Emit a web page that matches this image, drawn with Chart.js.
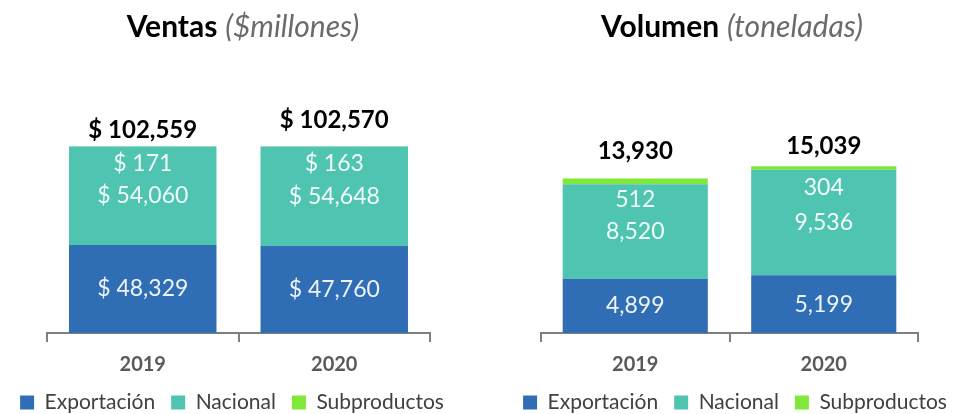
<!DOCTYPE html>
<html>
<head>
<meta charset="utf-8">
<script src="https://cdn.jsdelivr.net/npm/chart.js@4"></script>
<style>
  html, body { margin: 0; padding: 0; background: #fff; }
  body { width: 959px; height: 414px; position: relative; overflow: hidden; font-family: Lato, sans-serif; }
  .panel { position: absolute; top: 0; height: 414px; }
  .title { position: absolute; top: 7px; width: 400px; margin-left: -200px; text-align: center; font-size: 30px; color: #000; white-space: nowrap; }
  .title b { font-weight: 700; }
  .title .unit { color: #6b6b6b; font-style: italic; font-weight: 400; }
</style>
</head>
<body>
<div class="panel" style="left:-40px;width:560px;">
  <canvas id="ventasChart"></canvas>
</div>
<div class="panel" style="left:480px;width:540px;">
  <canvas id="volumenChart"></canvas>
</div>
<div class="title" style="left:243px;"><b>Ventas</b> <span class="unit">($millones)</span></div>
<div class="title" style="left:732px;"><b>Volumen</b> <span class="unit">(toneladas)</span></div>
<script>
// Data
const years = ['2019', '2020'];
const seriesNames = ['Exportación', 'Nacional', 'Subproductos'];

const ventasExportacion = [48329, 47760];
const ventasNacional = [54060, 54648];
const ventasSubproductos = [171, 163];
const ventasTotal = [102559, 102570];

const volumenExportacion = [4899, 5199];
const volumenNacional = [8520, 9536];
const volumenSubproductos = [512, 304];
const volumenTotal = [13930, 15039];

const colors = ['#2F6DB5', '#4EC4B1', '#7FE83A'];

// Draws the value inside each segment and the bold total above each stack
const stackLabels = {
  id: 'stackLabels',
  afterDatasetsDraw(chart, args, opts) {
    const ctx = chart.ctx;
    const topMeta = chart.getDatasetMeta(2);
    ctx.save();
    ctx.textAlign = 'center';
    ctx.textBaseline = 'middle';

    chart.data.datasets.forEach((ds, i) => {
      const meta = chart.getDatasetMeta(i);
      meta.data.forEach((bar, j) => {
        const text = opts.prefix + ds.data[j].toLocaleString('en-US');
        // Subproductos is too thin, its label sits just under the top of the stack
        const y = i === 2 ? topMeta.data[j].y + opts.subOffset : (bar.y + bar.base) / 2;
        ctx.font = '23px Lato';
        ctx.fillStyle = 'rgba(255,255,255,0.92)';
        ctx.fillText(text, bar.x, y);
      });
    });

    opts.totals.forEach((t, j) => {
      const bar = topMeta.data[j];
      ctx.font = 'bold 24px Lato';
      ctx.fillStyle = '#000';
      ctx.fillText(opts.prefix + t.toLocaleString('en-US'), bar.x, bar.y - opts.totalOffsets[j]);
    });
    ctx.restore();
  }
};

// sides: room left of / right of the plot inside the canvas
function makeChart(id, values, totals, yMax, sides, padding, labelOpts) {
  const ctx = document.getElementById(id).getContext('2d');
  return new Chart(ctx, {
    type: 'bar',
    data: {
      labels: years,
      datasets: values.map((data, i) => ({
        label: seriesNames[i],
        data: data,
        backgroundColor: colors[i],
        borderWidth: 0,
        barPercentage: 0.77,
        categoryPercentage: 1
      }))
    },
    options: {
      responsive: true,
      maintainAspectRatio: false,
      animation: false,
      layout: { padding: padding },
      scales: {
        x: {
          stacked: true,
          grid: {
            offset: true,
            drawOnChartArea: false,
            tickLength: 9,
            color: '#7f7f7f',
            lineWidth: 2
          },
          border: { display: true, color: '#7f7f7f', width: 2 },
          ticks: {
            color: '#595959',
            padding: 11,
            font: { family: 'Lato', size: 20, weight: 'bold' }
          },
          afterFit: (scale) => { scale.height = 43; }
        },
        y: {
          stacked: true,
          min: 0,
          max: yMax,
          grid: { display: false },
          border: { display: false },
          ticks: { display: false },
          afterFit: (scale) => { scale.width = sides[0]; }
        },
        y2: {
          position: 'right',
          grid: { display: false },
          border: { display: false },
          ticks: { display: false },
          afterFit: (scale) => { scale.width = sides[1]; }
        }
      },
      plugins: {
        tooltip: { enabled: false },
        legend: {
          position: 'bottom',
          labels: {
            boxWidth: 14,
            boxHeight: 14,
            padding: 16,
            color: '#404040',
            font: { family: 'Lato', size: 21 }
          }
        },
        stackLabels: Object.assign({ totals: totals }, labelOpts)
      }
    },
    plugins: [stackLabels]
  });
}

window.ventasChart = makeChart(
  'ventasChart',
  [ventasExportacion, ventasNacional, ventasSubproductos],
  ventasTotal,
  140000,
  [87, 74],
  { top: 78, left: 0, right: 16, bottom: -9 },
  { prefix: '$ ', subOffset: 17, totalOffsets: [16, 26] }
);

window.volumenChart = makeChart(
  'volumenChart',
  [volumenExportacion, volumenNacional, volumenSubproductos],
  volumenTotal,
  23000,
  [61, 72],
  { top: 78, left: 0, right: 30, bottom: -9 },
  { prefix: '', subOffset: 21, totalOffsets: [27, 20] }
);
</script>
</body>
</html>
